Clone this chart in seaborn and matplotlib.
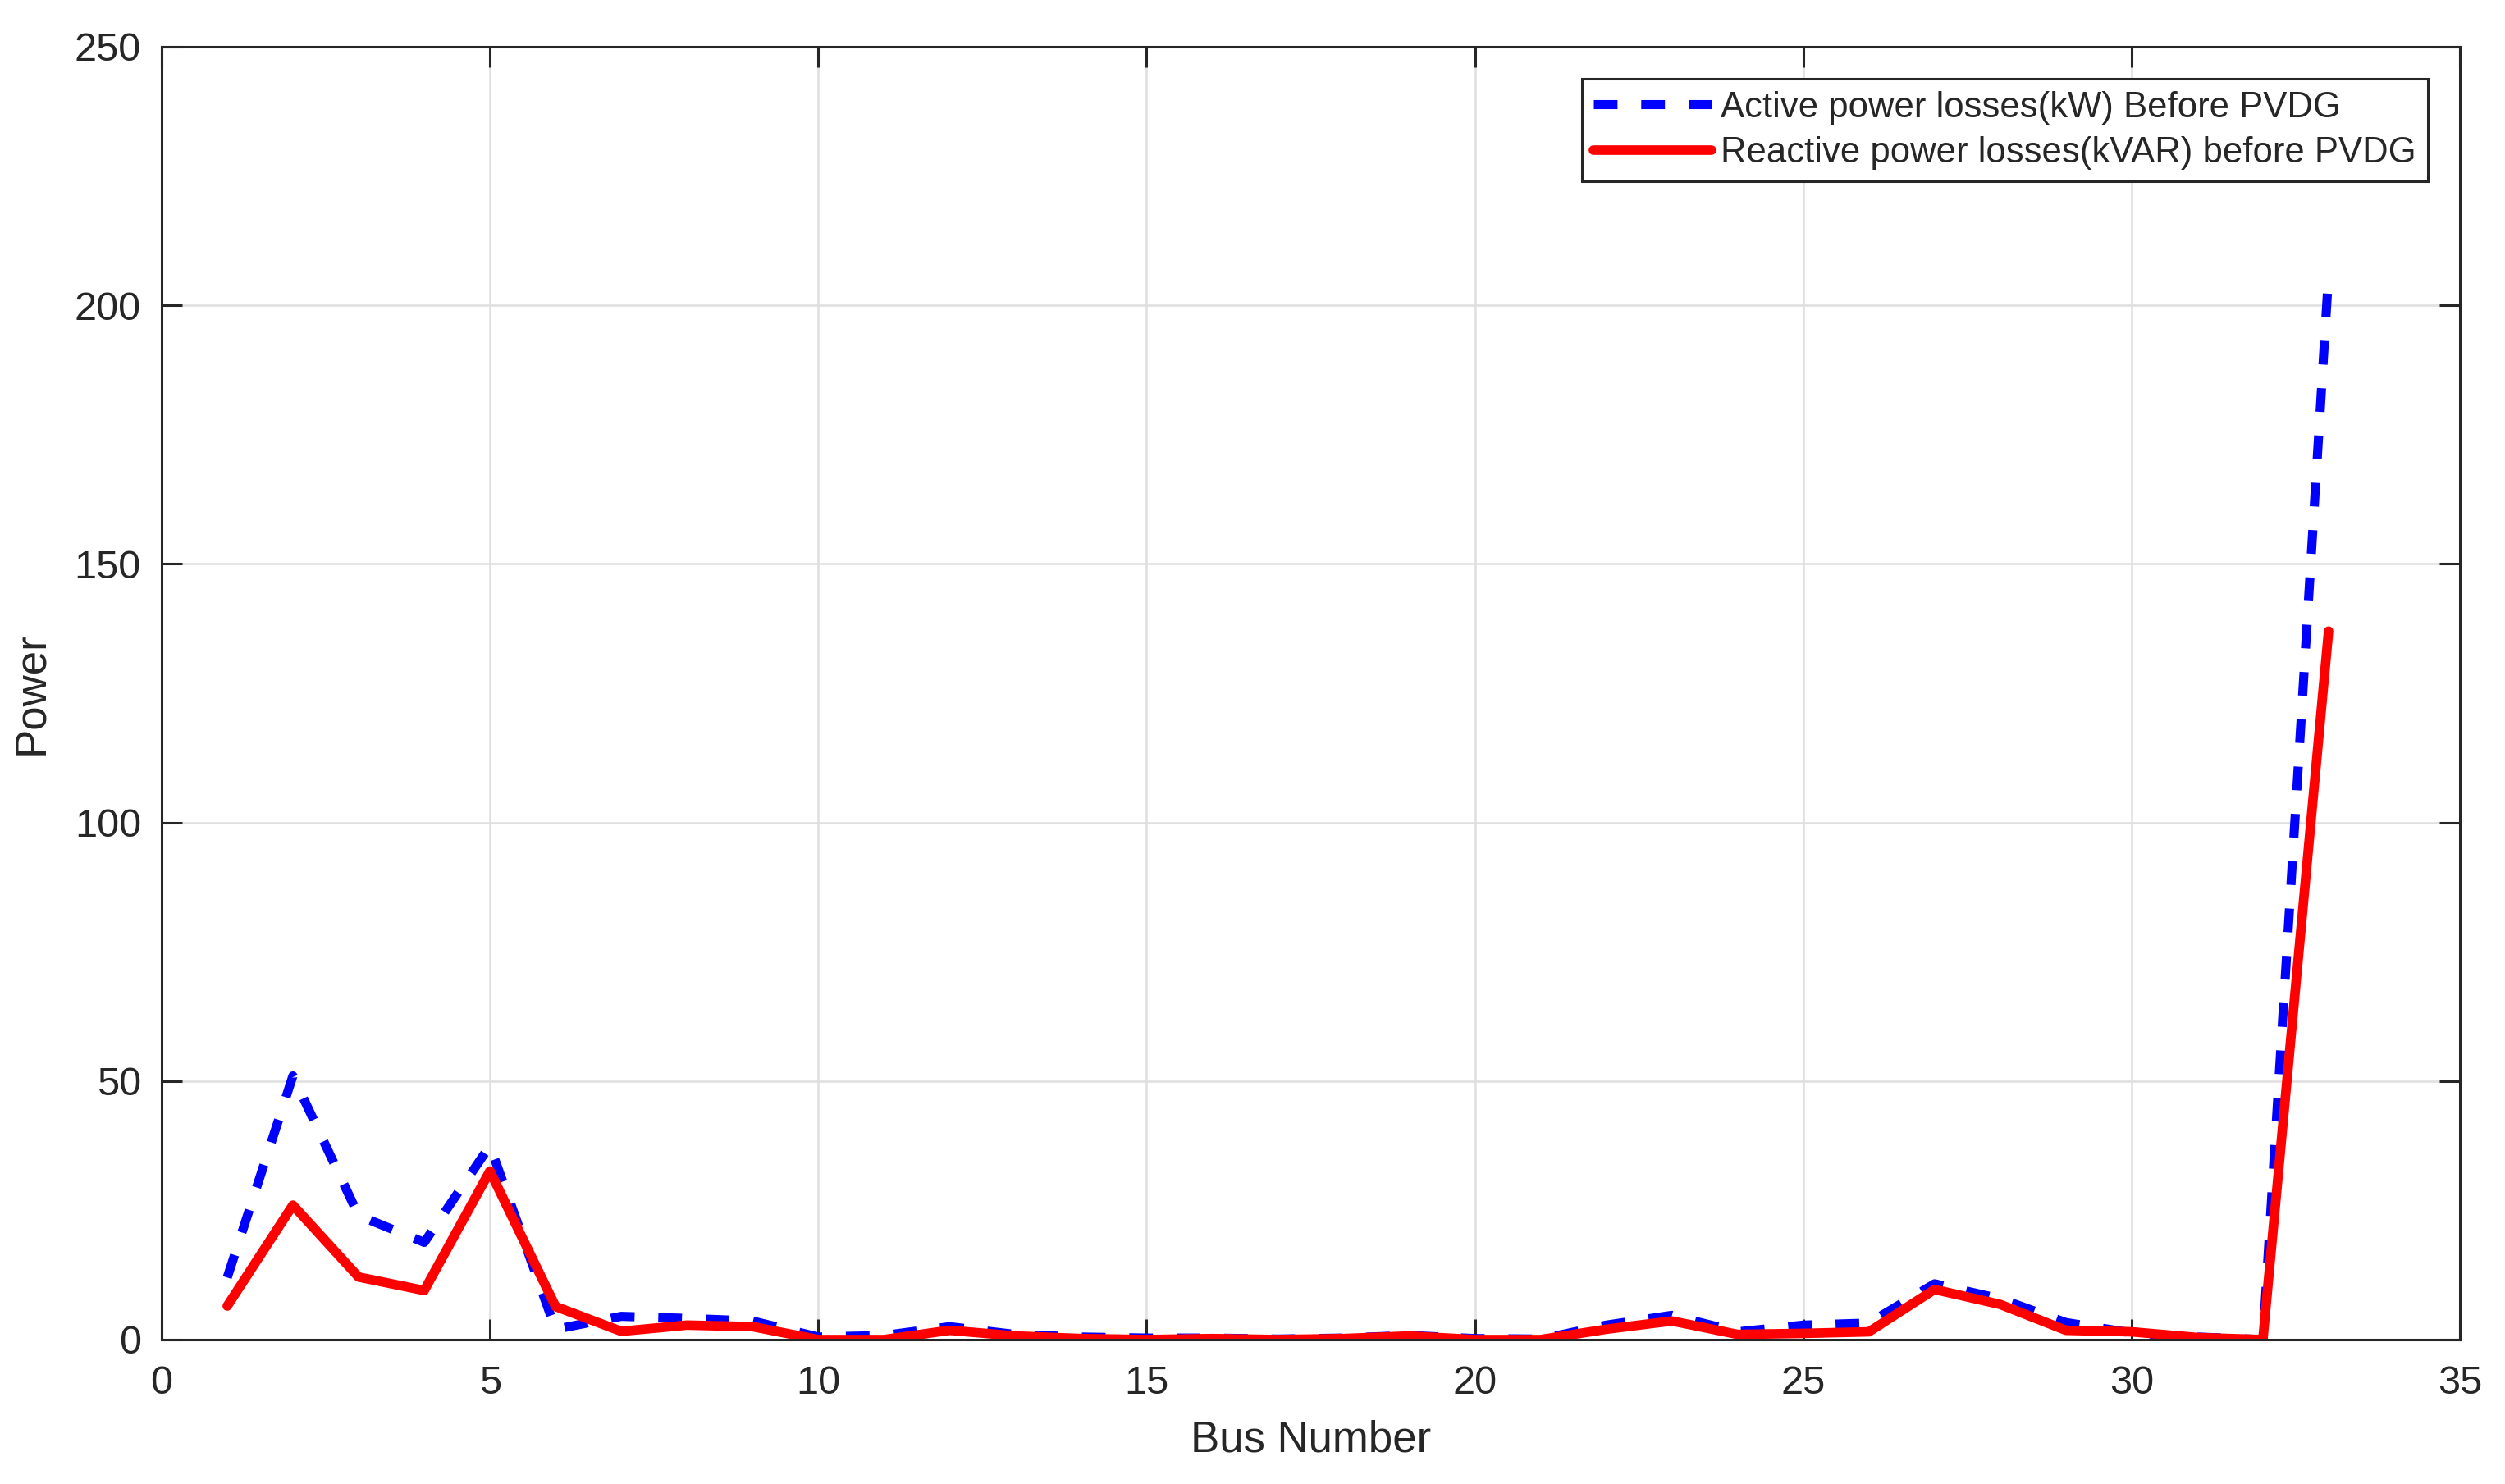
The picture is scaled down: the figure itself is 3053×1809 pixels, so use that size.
import matplotlib
matplotlib.use("Agg")
import matplotlib.pyplot as plt
import seaborn as sns
import pandas as pd
import numpy as np

# ---- data ----
bus = list(range(1, 34))
active_loss = [12, 51, 24, 18.8, 37.5, 2, 4.5, 4.1, 3.6, 0.5, 0.8, 2.5, 1, 0.5, 0.3,
               0.3, 0.1, 0.3, 0.8, 0.2, 0.1, 2.8, 4.7, 1.5, 2.8, 3.2, 10.8, 7.9, 3.3,
               1.3, 0.5, 0, 206]
reactive_loss = [6.5, 26, 12.1, 9.5, 32.6, 6.4, 1.6, 2.8, 2.5, 0, 0, 1.8, 0.7, 0.2, 0,
                 0.2, 0, 0.2, 0.7, 0, 0, 2.0, 3.6, 1.0, 1.2, 1.5, 9.7, 6.8, 1.8, 1.5,
                 0.4, 0, 137]
label_active = "Active power losses(kW) Before PVDG"
label_reactive = "Reactive power losses(kVAR) before PVDG"
x_ticks = [0, 5, 10, 15, 20, 25, 30, 35]
y_ticks = [0, 50, 100, 150, 200, 250]

df = pd.DataFrame({"bus": bus, "active": active_loss, "reactive": reactive_loss})

sns.set_theme(style="white")
plt.rcParams["font.family"] = ["Liberation Sans", "DejaVu Sans"]

fig = plt.figure(figsize=(30.53 / 2, 18.09 / 2), dpi=200)
ax = fig.add_axes([0.0645, 0.0973, 0.982 - 0.0645, 0.9685 - 0.0973])

sns.lineplot(data=df, x="bus", y="active", ax=ax, color=(0, 0, 1), linewidth=4.0,
             label=label_active, linestyle=(0, (2.6, 2.6)), dash_capstyle="butt")
sns.lineplot(data=df, x="bus", y="reactive", ax=ax, color=(1, 0, 0), linewidth=4.2,
             label=label_reactive)

ax.set_xlim(0, 35)
ax.set_ylim(0, 250)
ax.set_xticks(x_ticks)
ax.set_yticks(y_ticks)
ax.grid(True, color="#dfdfdf", linewidth=0.9)
ax.set_axisbelow(True)

ax.tick_params(axis="both", which="both", direction="in", length=9, width=1.1,
               color="#262626", labelsize=17.5, labelcolor="#262626",
               top=True, right=True, bottom=True, left=True)
ax.tick_params(axis="x", pad=11)
ax.tick_params(axis="y", pad=9)

for sp in ax.spines.values():
    sp.set_visible(True)
    sp.set_color("#262626")
    sp.set_linewidth(1.1)

ax.set_xlabel("Bus Number", fontsize=19, color="#262626", labelpad=8)
ax.set_ylabel("Power", fontsize=19, color="#262626", labelpad=10)

leg = ax.legend(loc="upper right", fontsize=15.7, frameon=True, fancybox=False,
                edgecolor="#262626", framealpha=1, handlelength=3.3,
                handletextpad=0.25, labelspacing=0.33, borderpad=0.33,
                borderaxespad=0.9)
leg.get_frame().set_linewidth(1.1)

fig.savefig("out.png", dpi=200)
